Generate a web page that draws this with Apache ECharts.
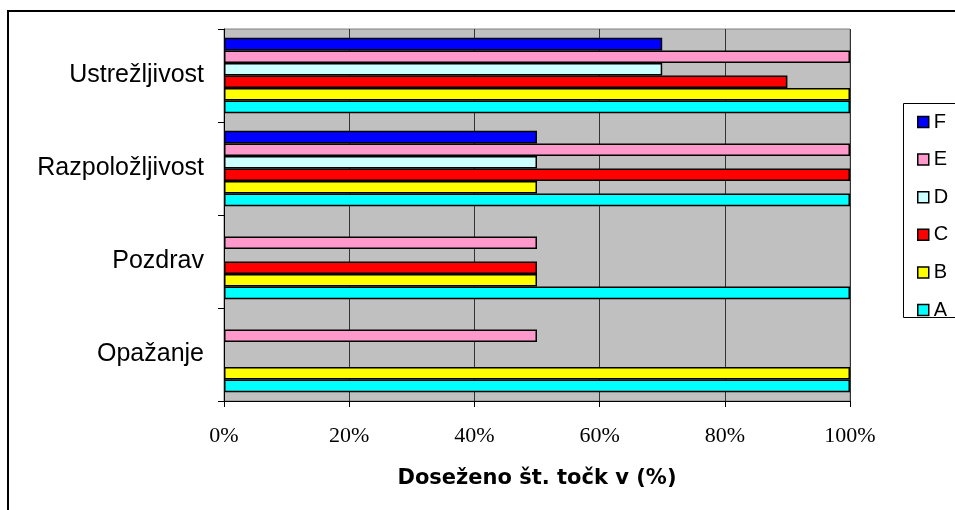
<!DOCTYPE html>
<html>
<head>
<meta charset="utf-8">
<script src="https://cdn.jsdelivr.net/npm/echarts@6/dist/echarts.min.js"></script>
<style>
  html, body { margin: 0; padding: 0; background: #fff; }
  #chart { width: 955px; height: 510px; }
</style>
</head>
<body>
<div id="chart"></div>
<script>
// Categories, bottom to top
const categories = ['Opažanje', 'Pozdrav', 'Razpoložljivost', 'Ustrežljivost'];

// Achieved points (%) per series, in category order (null = no bar)
const seriesA = [100, 100, 100, 100];
const seriesB = [100, 50, 50, 100];
const seriesC = [null, 50, 100, 90];
const seriesD = [null, null, 50, 70];
const seriesE = [50, 50, 100, 100];
const seriesF = [null, null, 50, 70];

// Drawn top to bottom within each category: F first, A last
const seriesNames = ['F', 'E', 'D', 'C', 'B', 'A'];
const seriesValues = [seriesF, seriesE, seriesD, seriesC, seriesB, seriesA];
const seriesColors = ['#0000FF', '#FF99CC', '#CCFFFF', '#FF0000', '#FFFF00', '#00FFFF'];

const xTicks = { min: 0, max: 100, interval: 20 };
const axisTitle = 'Doseženo št. točk v (%)';

const chart = echarts.init(document.getElementById('chart'), null, { renderer: 'canvas' });

chart.setOption({
  animation: false,
  backgroundColor: '#ffffff',
  grid: {
    left: 224, top: 29, right: 105, bottom: 109,
    show: true,
    backgroundColor: '#C0C0C0',
    borderColor: '#808080',
    borderWidth: 1
  },
  legend: {
    orient: 'vertical',
    left: 912,
    top: 107,
    data: ['F', 'E', 'D', 'C', 'B', 'A'],
    itemWidth: 11,
    itemHeight: 11,
    itemGap: 17.6,
    icon: 'rect',
    textStyle: { fontFamily: 'Liberation Sans', fontSize: 20, color: '#000', lineHeight: 20 },
    itemStyle: { borderColor: '#000', borderWidth: 1.5 }
  },
  graphic: [
    {
      type: 'rect',
      shape: { x: 8, y: 11, width: 1000, height: 600 },
      style: { fill: 'none', stroke: '#000', lineWidth: 2 },
      silent: true
    },
    {
      type: 'rect',
      shape: { x: 903.5, y: 103.5, width: 80, height: 214 },
      style: { fill: 'none', stroke: '#000', lineWidth: 1 },
      silent: true
    }
  ],
  xAxis: {
    type: 'value',
    min: xTicks.min,
    max: xTicks.max,
    interval: xTicks.interval,
    name: axisTitle,
    nameLocation: 'middle',
    nameGap: 67,
    nameTextStyle: { fontFamily: 'DejaVu Sans', fontWeight: 'bold', fontSize: 21, color: '#000' },
    axisLine: { show: true, lineStyle: { color: '#000', width: 1 } },
    axisTick: { show: true, length: 6, lineStyle: { color: '#000' } },
    axisLabel: {
      formatter: '{value}%',
      margin: 24,
      fontFamily: 'Liberation Serif',
      fontSize: 22,
      color: '#000'
    },
    splitLine: { show: true, lineStyle: { color: '#333', width: 1 } }
  },
  yAxis: {
    type: 'category',
    data: categories,
    axisLine: { show: true, lineStyle: { color: '#000', width: 1 } },
    axisTick: { show: true, length: 6, lineStyle: { color: '#000' } },
    axisLabel: { margin: 20, fontFamily: 'Liberation Sans', fontSize: 25, color: '#000' },
    splitLine: { show: false }
  },
  series: seriesNames.map((name, i) => ({
    name: name,
    type: 'bar',
    data: seriesValues[i],
    barGap: '0%',
    barCategoryGap: '19%',
    itemStyle: { color: seriesColors[i], borderColor: '#000', borderWidth: 1.5 }
  }))
});
</script>
</body>
</html>
